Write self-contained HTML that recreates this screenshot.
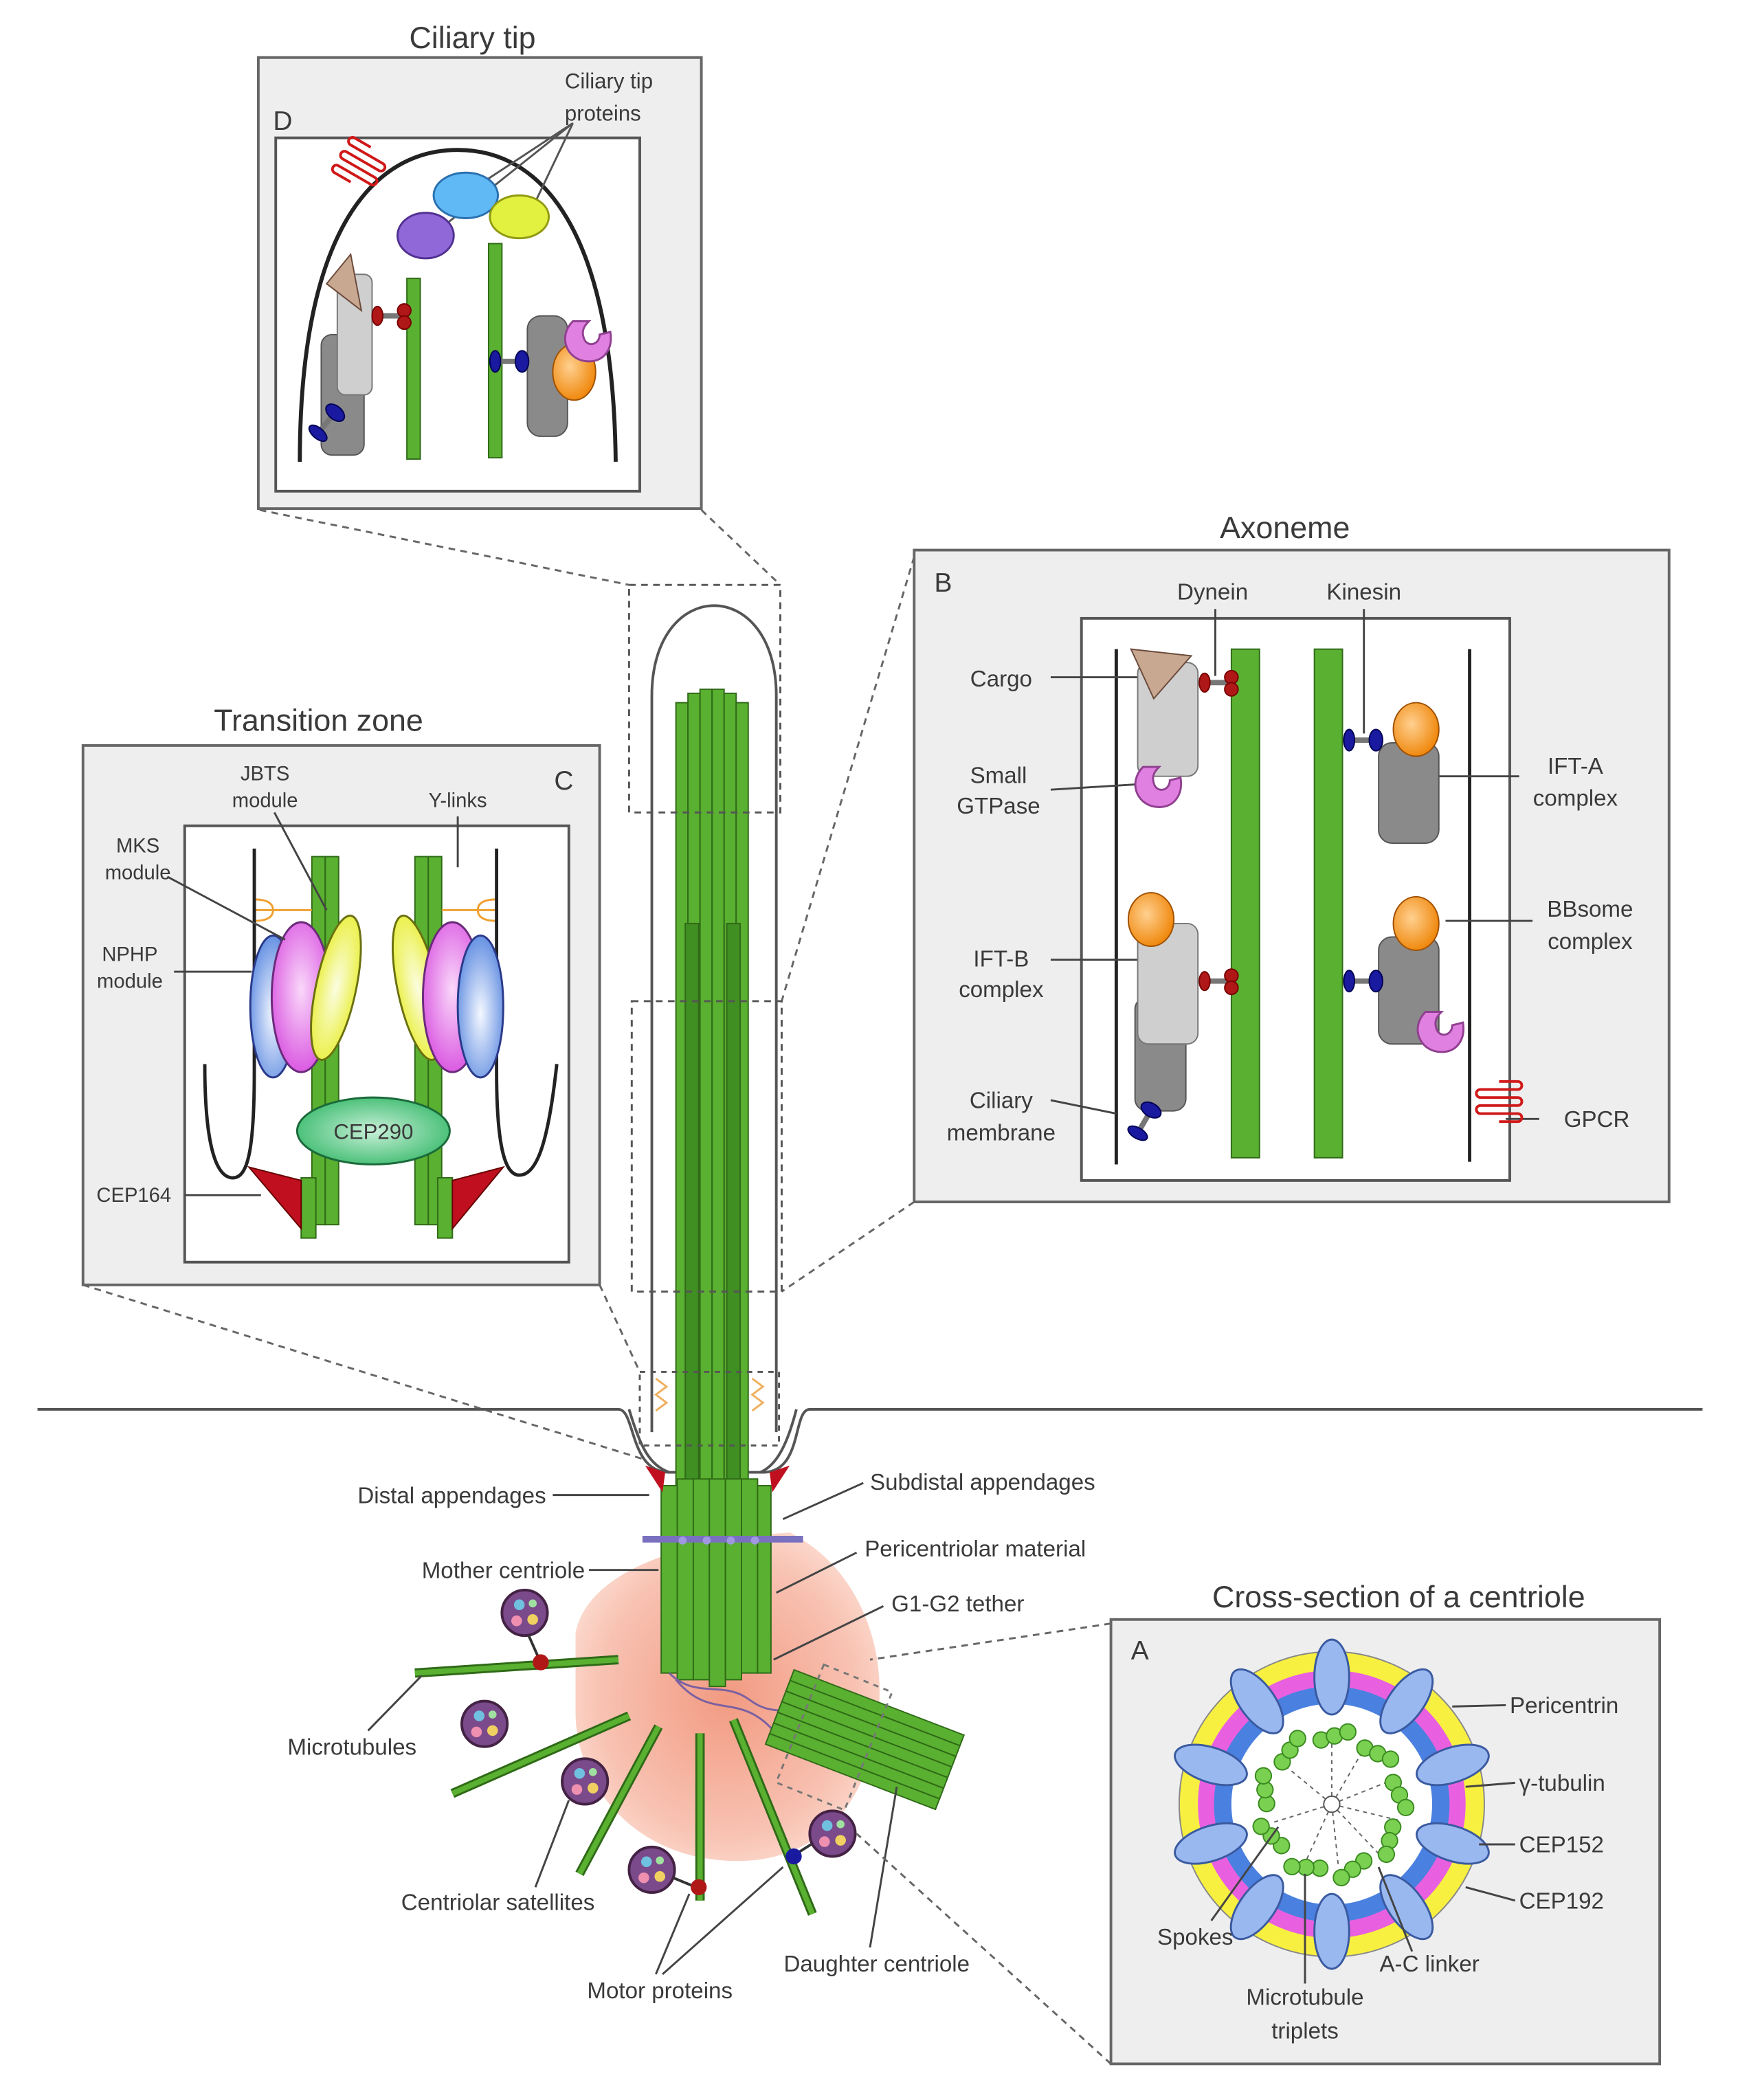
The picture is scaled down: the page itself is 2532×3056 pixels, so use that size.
<!DOCTYPE html>
<html><head><meta charset="utf-8"><style>
html,body{margin:0;padding:0;background:#fff}
svg{display:block}
text{font-family:"Liberation Sans",sans-serif;fill:#3a3a3a}
</style></head><body>
<svg width="2532" height="3056" viewBox="0 0 1300 1569" preserveAspectRatio="none" xmlns="http://www.w3.org/2000/svg">
<defs>
<radialGradient id="pcm" cx="0.5" cy="0.5" r="0.6"><stop offset="0" stop-color="#f29a82"/><stop offset="0.7" stop-color="#f8c2b2"/><stop offset="1" stop-color="#fde2d8"/></radialGradient>
<radialGradient id="or" cx="0.4" cy="0.4" r="0.6"><stop offset="0" stop-color="#ffd090"/><stop offset="1" stop-color="#f08a10"/></radialGradient>
<radialGradient id="gb" cx="0.5" cy="0.55" r="0.6"><stop offset="0" stop-color="#f4f8ff"/><stop offset="1" stop-color="#5a88e0"/></radialGradient>
<radialGradient id="gm" cx="0.5" cy="0.45" r="0.6"><stop offset="0" stop-color="#fad8fa"/><stop offset="1" stop-color="#d850e0"/></radialGradient>
<radialGradient id="gy" cx="0.5" cy="0.5" r="0.6"><stop offset="0" stop-color="#fbfde0"/><stop offset="1" stop-color="#e8ee30"/></radialGradient>
<radialGradient id="gg" cx="0.5" cy="0.5" r="0.6"><stop offset="0" stop-color="#c8f0d8"/><stop offset="1" stop-color="#34b868"/></radialGradient>
<g id="dyn"><rect x="-9" y="-2" width="18" height="4" fill="#777"/><ellipse cx="-10" cy="0" rx="4" ry="7" fill="#b01818" stroke="#700" /><ellipse cx="10" cy="-4" rx="5" ry="5" fill="#b01818" stroke="#700"/><ellipse cx="10" cy="5" rx="5" ry="5" fill="#b01818" stroke="#700"/></g>
<g id="kin"><rect x="-9" y="-2" width="18" height="4" fill="#777"/><ellipse cx="-10" cy="0" rx="4" ry="8" fill="#1a1aa0" stroke="#005"/><ellipse cx="10" cy="0" rx="5" ry="8" fill="#1a1aa0" stroke="#005"/></g>
<g id="gpcr"><path d="M0,0 v-14 a3,3 0 0 1 6,0 v28 a3,3 0 0 0 6,0 v-28 a3,3 0 0 1 6,0 v28 a3,3 0 0 0 6,0 v-28 a3,3 0 0 1 6,0 v14" fill="none" stroke="#d01818" stroke-width="2"/></g>
<g id="cshape"><path d="M-10,-12 C-22,0 -14,18 2,18 C14,18 20,8 18,-4 L10,-2 C10,6 0,8 -2,0 C-4,-6 0,-10 2,-12 Z" fill="#e080e0" stroke="#904090" stroke-width="1.5"/></g>
</defs>

<!-- ===== Box D ===== -->
<text x="353" y="36" font-size="23" text-anchor="middle">Ciliary tip</text>
<rect x="193" y="43" width="331" height="337" fill="#eeeeee" stroke="#666" stroke-width="2"/>
<rect x="206" y="103" width="272" height="264" fill="#fff" stroke="#555" stroke-width="2"/>
<text x="204" y="97" font-size="20">D</text>
<text x="422" y="66" font-size="16">Ciliary tip</text>
<text x="422" y="90" font-size="16">proteins</text>
<path d="M224,345 C224,170 280,112 342,112 C404,112 458,170 460,345" fill="none" stroke="#222" stroke-width="3"/>
<g transform="translate(262,136) rotate(-60)"><use href="#gpcr"/></g>
<line x1="428" y1="92" x2="358" y2="138" stroke="#555" stroke-width="1.5"/>
<line x1="428" y1="92" x2="330" y2="170" stroke="#555" stroke-width="1.5"/>
<line x1="428" y1="92" x2="398" y2="155" stroke="#555" stroke-width="1.5"/>
<ellipse cx="348" cy="146" rx="24" ry="17" fill="#60b8f4" stroke="#2a70b0" stroke-width="1.5"/>
<ellipse cx="388" cy="162" rx="22" ry="16" fill="#e2f040" stroke="#909a10" stroke-width="1.5"/>
<ellipse cx="318" cy="176" rx="21" ry="17" fill="#9068d8" stroke="#503090" stroke-width="1.5"/>
<rect x="304" y="208" width="10" height="135" fill="#5ab030" stroke="#2f6a18"/>
<rect x="365" y="182" width="10" height="160" fill="#5ab030" stroke="#2f6a18"/>
<rect x="240" y="250" width="32" height="90" rx="8" fill="#8a8a8a" stroke="#555"/>
<rect x="252" y="205" width="26" height="90" rx="6" fill="#cfcfcf" stroke="#777"/>
<polygon points="262,190 270,232 244,212" fill="#c8a890" stroke="#6a4a3a"/>
<use href="#dyn" x="292" y="236"/>
<g transform="translate(244,316) rotate(-50)"><use href="#kin"/></g>
<rect x="394" y="236" width="30" height="90" rx="10" fill="#8a8a8a" stroke="#555"/>
<use href="#kin" x="380" y="270"/>
<ellipse cx="429" cy="278" rx="16" ry="21" fill="url(#or)" stroke="#a05000"/>
<g transform="translate(438,252)"><use href="#cshape"/></g>

<line x1="194" y1="381" x2="470" y2="437" stroke="#666" stroke-width="1.5" stroke-dasharray="5,4"/>
<line x1="524" y1="381" x2="583" y2="437" stroke="#666" stroke-width="1.5" stroke-dasharray="5,4"/>

<!-- ===== Box B ===== -->
<text x="960" y="402" font-size="23" text-anchor="middle">Axoneme</text>
<rect x="683" y="411" width="564" height="487" fill="#eeeeee" stroke="#666" stroke-width="2"/>
<rect x="808" y="462" width="320" height="420" fill="#fff" stroke="#555" stroke-width="2"/>
<text x="698" y="442" font-size="20">B</text>
<line x1="834" y1="485" x2="834" y2="870" stroke="#222" stroke-width="2.5"/>
<line x1="1098" y1="485" x2="1098" y2="868" stroke="#222" stroke-width="2.5"/>
<rect x="920" y="485" width="21" height="380" fill="#5ab030" stroke="#2f6a18"/>
<rect x="982" y="485" width="21" height="380" fill="#5ab030" stroke="#2f6a18"/>
<g font-size="17" text-anchor="middle">
<text x="748" y="513">Cargo</text>
<text x="746" y="585">Small</text><text x="746" y="608">GTPase</text>
<text x="748" y="722">IFT-B</text><text x="748" y="745">complex</text>
<text x="748" y="828">Ciliary</text><text x="748" y="852">membrane</text>
<text x="1177" y="578">IFT-A</text><text x="1177" y="602">complex</text>
<text x="1188" y="685">BBsome</text><text x="1188" y="709">complex</text>
<text x="1193" y="842">GPCR</text>
<text x="906" y="448">Dynein</text>
<text x="1019" y="448">Kinesin</text>
</g>
<g stroke="#444" stroke-width="1.5" fill="none">
<line x1="785" y1="506" x2="852" y2="506"/>
<line x1="785" y1="590" x2="850" y2="586"/>
<line x1="785" y1="717" x2="852" y2="717"/>
<line x1="785" y1="822" x2="834" y2="832"/>
<line x1="1135" y1="580" x2="1075" y2="580"/>
<line x1="1145" y1="688" x2="1080" y2="688"/>
<line x1="1150" y1="836" x2="1125" y2="836"/>
<line x1="908" y1="455" x2="908" y2="505"/>
<line x1="1019" y1="455" x2="1019" y2="548"/>
</g>
<rect x="850" y="495" width="45" height="85" rx="8" fill="#cfcfcf" stroke="#777"/>
<polygon points="845,485 890,490 862,522" fill="#c8a890" stroke="#6a4a3a"/>
<g transform="translate(864,585)"><use href="#cshape"/></g>
<use href="#dyn" x="910" y="510"/>
<rect x="848" y="745" width="38" height="85" rx="9" fill="#8a8a8a" stroke="#555"/>
<rect x="850" y="690" width="45" height="90" rx="8" fill="#cfcfcf" stroke="#777"/>
<ellipse cx="860" cy="687" rx="17" ry="20" fill="url(#or)" stroke="#a05000"/>
<use href="#dyn" x="910" y="733"/>
<g transform="translate(855,838) rotate(-60)"><use href="#kin"/></g>
<rect x="1030" y="555" width="45" height="75" rx="10" fill="#8a8a8a" stroke="#555"/>
<ellipse cx="1058" cy="545" rx="17" ry="20" fill="url(#or)" stroke="#a05000"/>
<use href="#kin" x="1018" y="553"/>
<rect x="1030" y="700" width="45" height="80" rx="10" fill="#8a8a8a" stroke="#555"/>
<ellipse cx="1058" cy="690" rx="17" ry="20" fill="url(#or)" stroke="#a05000"/>
<use href="#kin" x="1018" y="733"/>
<g transform="translate(1075,768)"><use href="#cshape"/></g>
<g transform="translate(1084,820) rotate(90) translate(-12,-36)"><use href="#gpcr"/></g>

<line x1="683" y1="416" x2="584" y2="748" stroke="#666" stroke-width="1.5" stroke-dasharray="5,4"/>
<line x1="683" y1="898" x2="584" y2="965" stroke="#666" stroke-width="1.5" stroke-dasharray="5,4"/>

<!-- ===== Box C ===== -->
<text x="238" y="546" font-size="23" text-anchor="middle">Transition zone</text>
<rect x="62" y="557" width="386" height="403" fill="#eeeeee" stroke="#666" stroke-width="2"/>
<rect x="138" y="617" width="287" height="326" fill="#fff" stroke="#555" stroke-width="2"/>
<text x="414" y="590" font-size="20">C</text>
<g fill="#5ab030" stroke="#2f6a18">
<rect x="233" y="640" width="10" height="275"/><rect x="243" y="640" width="10" height="275"/>
<rect x="225" y="880" width="11" height="45"/>
<rect x="310" y="640" width="10" height="275"/><rect x="320" y="640" width="10" height="275"/>
<rect x="327" y="880" width="11" height="45"/>
</g>
<path d="M190,680 h43 M190,672 q14,0 14,8 q0,8 -14,8" fill="none" stroke="#f0a030" stroke-width="1.5"/>
<path d="M330,680 h41 M371,672 q-14,0 -14,8 q0,8 14,8" fill="none" stroke="#f0a030" stroke-width="1.5"/>
<path d="M190,634 L190,800 C190,860 185,880 174,880 C160,880 153,850 153,795" fill="none" stroke="#222" stroke-width="2.5"/>
<path d="M371,634 L371,800 C371,860 378,878 388,878 C402,878 410,850 416,795" fill="none" stroke="#222" stroke-width="2.5"/>
<ellipse cx="204" cy="752" rx="17" ry="53" fill="url(#gb)" stroke="#2a3a8a" stroke-width="1.5"/>
<ellipse cx="225" cy="745" rx="22" ry="56" fill="url(#gm)" stroke="#6a2a7a" stroke-width="1.5"/>
<ellipse cx="251" cy="738" rx="15" ry="55" fill="url(#gy)" stroke="#6a7010" stroke-width="1.5" transform="rotate(12 251 738)"/>
<ellipse cx="312" cy="738" rx="15" ry="55" fill="url(#gy)" stroke="#6a7010" stroke-width="1.5" transform="rotate(-12 312 738)"/>
<ellipse cx="338" cy="745" rx="22" ry="56" fill="url(#gm)" stroke="#6a2a7a" stroke-width="1.5"/>
<ellipse cx="359" cy="752" rx="17" ry="53" fill="url(#gb)" stroke="#2a3a8a" stroke-width="1.5"/>
<ellipse cx="279" cy="845" rx="57" ry="25" fill="url(#gg)" stroke="#1a6a3a" stroke-width="1.5"/>
<text x="279" y="851" font-size="16" text-anchor="middle" fill="#1a4a2a">CEP290</text>
<polygon points="186,872 225,882 225,918" fill="#c01020" stroke="#600"/>
<polygon points="376,872 338,882 338,918" fill="#c01020" stroke="#600"/>
<g font-size="15" text-anchor="middle">
<text x="198" y="583">JBTS</text><text x="198" y="603">module</text>
<text x="342" y="603">Y-links</text>
<text x="103" y="637">MKS</text><text x="103" y="657">module</text>
<text x="97" y="718">NPHP</text><text x="97" y="738">module</text>
<text x="100" y="898">CEP164</text>
</g>
<g stroke="#444" stroke-width="1.5">
<line x1="205" y1="607" x2="244" y2="680"/>
<line x1="342" y1="610" x2="342" y2="648"/>
<line x1="125" y1="655" x2="213" y2="702"/>
<line x1="130" y1="726" x2="188" y2="726"/>
<line x1="138" y1="893" x2="195" y2="893"/>
</g>
<line x1="62" y1="960" x2="480" y2="1090" stroke="#666" stroke-width="1.5" stroke-dasharray="5,4"/>
<line x1="448" y1="960" x2="478" y2="1025" stroke="#666" stroke-width="1.5" stroke-dasharray="5,4"/>

<!-- ===== Cilium ===== -->
<path d="M28,1053 L462,1053 C475,1053 470,1100 500,1100 L570,1100 C600,1100 592,1053 605,1053 L1272,1053" fill="none" stroke="#555" stroke-width="2"/>
<path d="M487,1070 L487,520 C487,430 580,430 580,520 L580,1070" fill="none" stroke="#555" stroke-width="2"/>
<path d="M470,1053 C478,1080 485,1095 500,1100 M595,1053 C588,1080 580,1095 568,1100" fill="none" stroke="#555" stroke-width="2"/>
<path d="M430,1220 C440,1170 520,1150 590,1145 C640,1170 665,1230 655,1290 C645,1360 600,1395 540,1390 C470,1385 430,1330 430,1280 Z" fill="url(#pcm)"/>
<g fill="#5ab030" stroke="#2f6a18" stroke-width="1">
<rect x="505" y="525" width="9" height="620"/><rect x="514" y="518" width="9" height="630"/><rect x="523" y="515" width="9" height="640"/>
<rect x="532" y="515" width="9" height="640"/><rect x="541" y="518" width="9" height="630"/><rect x="550" y="525" width="9" height="620"/>
<rect x="512" y="690" width="10" height="450" fill="#3f8f22"/><rect x="543" y="690" width="10" height="450" fill="#3f8f22"/>
</g>
<g fill="#5ab030" stroke="#2f6a18" stroke-width="1">
<rect x="494" y="1110" width="12" height="140"/><rect x="506" y="1105" width="12" height="150"/><rect x="518" y="1105" width="12" height="150"/>
<rect x="530" y="1105" width="12" height="155"/><rect x="542" y="1105" width="12" height="150"/><rect x="554" y="1105" width="12" height="145"/><rect x="566" y="1110" width="10" height="140"/>
</g>
<polygon points="482,1095 497,1100 495,1115" fill="#c01020"/>
<polygon points="590,1095 575,1100 577,1115" fill="#c01020"/>
<path d="M480,1150 L600,1150" stroke="#7a70c0" stroke-width="5"/>
<g fill="#a098e0"><circle cx="510" cy="1151" r="3"/><circle cx="528" cy="1151" r="3"/><circle cx="546" cy="1151" r="3"/><circle cx="564" cy="1151" r="3"/></g>
<rect x="470" y="437" width="113" height="170" fill="none" stroke="#555" stroke-width="1.5" stroke-dasharray="5,4"/>
<rect x="472" y="748" width="112" height="217" fill="none" stroke="#555" stroke-width="1.5" stroke-dasharray="5,4"/>
<rect x="478" y="1025" width="104" height="55" fill="none" stroke="#555" stroke-width="1.5" stroke-dasharray="4,4"/>
<path d="M490,1030 l8,6 -8,6 8,6 -8,6 M562,1030 l8,6 -8,6 8,6 -8,6" fill="none" stroke="#f0b060" stroke-width="1.5"/>
<path d="M500,1250 C520,1270 540,1255 560,1270 C580,1285 590,1270 600,1290 M505,1255 C530,1285 550,1265 575,1290 C590,1305 595,1295 600,1310" fill="none" stroke="#7a60a0" stroke-width="1.5"/>
<g transform="translate(646,1300) rotate(21)" fill="#5ab030" stroke="#2f6a18">
<rect x="-68" y="-30" width="136" height="8.5"/><rect x="-68" y="-21.5" width="136" height="8.5"/><rect x="-68" y="-13" width="136" height="8.5"/>
<rect x="-68" y="-4.5" width="136" height="8.5"/><rect x="-68" y="4" width="136" height="8.5"/><rect x="-68" y="12.5" width="136" height="8.5"/><rect x="-68" y="21" width="136" height="8.5"/>
</g>
<g stroke="#2f6a18" stroke-width="7">
<line x1="310" y1="1250" x2="462" y2="1240"/>
<line x1="338" y1="1340" x2="470" y2="1282"/>
<line x1="433" y1="1400" x2="492" y2="1290"/>
<line x1="523" y1="1295" x2="523" y2="1420"/>
<line x1="548" y1="1285" x2="607" y2="1430"/>
</g>
<g stroke="#5ab030" stroke-width="4">
<line x1="310" y1="1250" x2="462" y2="1240"/>
<line x1="338" y1="1340" x2="470" y2="1282"/>
<line x1="433" y1="1400" x2="492" y2="1290"/>
<line x1="523" y1="1295" x2="523" y2="1420"/>
<line x1="548" y1="1285" x2="607" y2="1430"/>
</g>
<g stroke="#442244" stroke-width="2" fill="#7a4a8a">
<circle cx="392" cy="1205" r="17"/><circle cx="362" cy="1288" r="17"/><circle cx="437" cy="1331" r="17"/><circle cx="487" cy="1397" r="17"/><circle cx="622" cy="1370" r="17"/>
</g>
<g fill="#f0d060"><circle cx="398" cy="1210" r="4"/><circle cx="368" cy="1293" r="4"/><circle cx="443" cy="1336" r="4"/><circle cx="493" cy="1402" r="4"/><circle cx="628" cy="1375" r="4"/></g>
<g fill="#70c0e0"><circle cx="388" cy="1199" r="4"/><circle cx="358" cy="1282" r="4"/><circle cx="433" cy="1325" r="4"/><circle cx="483" cy="1391" r="4"/><circle cx="618" cy="1364" r="4"/></g>
<g fill="#f090b0"><circle cx="386" cy="1211" r="4"/><circle cx="356" cy="1294" r="4"/><circle cx="431" cy="1337" r="4"/><circle cx="481" cy="1403" r="4"/><circle cx="616" cy="1376" r="4"/></g>
<g fill="#a0e0a0"><circle cx="398" cy="1198" r="3"/><circle cx="368" cy="1281" r="3"/><circle cx="443" cy="1324" r="3"/><circle cx="493" cy="1390" r="3"/><circle cx="628" cy="1363" r="3"/></g>
<line x1="395" y1="1222" x2="403" y2="1240" stroke="#333" stroke-width="2"/><circle cx="404" cy="1242" r="6" fill="#b01818"/>
<line x1="503" y1="1403" x2="520" y2="1410" stroke="#333" stroke-width="2"/><circle cx="522" cy="1410" r="6" fill="#b01818"/>
<line x1="606" y1="1378" x2="595" y2="1385" stroke="#333" stroke-width="2"/><circle cx="593" cy="1387" r="6" fill="#1a1aa0"/>
<g font-size="17">
<text x="408" y="1123" text-anchor="end">Distal appendages</text>
<text x="650" y="1113">Subdistal appendages</text>
<text x="646" y="1163">Pericentriolar material</text>
<text x="437" y="1179" text-anchor="end">Mother centriole</text>
<text x="666" y="1204">G1-G2 tether</text>
<text x="263" y="1311" text-anchor="middle">Microtubules</text>
<text x="372" y="1427" text-anchor="middle">Centriolar satellites</text>
<text x="493" y="1493" text-anchor="middle">Motor proteins</text>
<text x="655" y="1473" text-anchor="middle">Daughter centriole</text>
</g>
<g stroke="#444" stroke-width="1.5" fill="none">
<line x1="413" y1="1117" x2="485" y2="1117"/>
<line x1="645" y1="1108" x2="585" y2="1135"/>
<line x1="640" y1="1160" x2="580" y2="1190"/>
<line x1="440" y1="1173" x2="492" y2="1173"/>
<line x1="660" y1="1200" x2="578" y2="1240"/>
<line x1="275" y1="1293" x2="315" y2="1252"/>
<line x1="400" y1="1410" x2="425" y2="1345"/>
<line x1="490" y1="1475" x2="515" y2="1415"/>
<line x1="495" y1="1475" x2="585" y2="1395"/>
<line x1="650" y1="1455" x2="670" y2="1335"/>
</g>
<rect x="596" y="1250" width="55" height="95" fill="none" stroke="#777" stroke-width="1.5" stroke-dasharray="4,4" transform="rotate(22 622 1297)"/>

<!-- ===== Box A ===== -->
<text x="1045" y="1201" font-size="23" text-anchor="middle">Cross-section of a centriole</text>
<rect x="830" y="1210" width="410" height="332" fill="#eeeeee" stroke="#666" stroke-width="2"/>
<text x="845" y="1240" font-size="20">A</text>
<line x1="830" y1="1213" x2="650" y2="1240" stroke="#666" stroke-width="1.5" stroke-dasharray="5,4"/>
<line x1="830" y1="1542" x2="640" y2="1370" stroke="#666" stroke-width="1.5" stroke-dasharray="5,4"/>
<circle cx="995" cy="1348" r="114" fill="#f8f040" stroke="#888" stroke-width="1"/>
<circle cx="995" cy="1348" r="100" fill="#e860e0"/>
<circle cx="995" cy="1348" r="88" fill="#4a80e0"/>
<circle cx="995" cy="1348" r="75" fill="#fff"/>
<g fill="#9ab8f0" stroke="#3a5aa0" stroke-width="1.5">
<g transform="rotate(0 995 1348)"><ellipse cx="995" cy="1253" rx="13" ry="28"/></g>
<g transform="rotate(36 995 1348)"><ellipse cx="995" cy="1253" rx="13" ry="28"/></g>
<g transform="rotate(72 995 1348)"><ellipse cx="995" cy="1253" rx="13" ry="28"/></g>
<g transform="rotate(108 995 1348)"><ellipse cx="995" cy="1253" rx="13" ry="28"/></g>
<g transform="rotate(144 995 1348)"><ellipse cx="995" cy="1253" rx="13" ry="28"/></g>
<g transform="rotate(180 995 1348)"><ellipse cx="995" cy="1253" rx="13" ry="28"/></g>
<g transform="rotate(216 995 1348)"><ellipse cx="995" cy="1253" rx="13" ry="28"/></g>
<g transform="rotate(252 995 1348)"><ellipse cx="995" cy="1253" rx="13" ry="28"/></g>
<g transform="rotate(288 995 1348)"><ellipse cx="995" cy="1253" rx="13" ry="28"/></g>
<g transform="rotate(324 995 1348)"><ellipse cx="995" cy="1253" rx="13" ry="28"/></g>
</g>
<g stroke="#666" stroke-width="1" stroke-dasharray="3,3">
<line x1="995" y1="1348" x2="995" y2="1300"/><line x1="995" y1="1348" x2="1040" y2="1330"/><line x1="995" y1="1348" x2="1030" y2="1385"/>
<line x1="995" y1="1348" x2="975" y2="1392"/><line x1="995" y1="1348" x2="950" y2="1362"/><line x1="995" y1="1348" x2="955" y2="1315"/>
<line x1="995" y1="1348" x2="1020" y2="1305"/><line x1="995" y1="1348" x2="1045" y2="1360"/><line x1="995" y1="1348" x2="1000" y2="1395"/>
</g>
<circle cx="995" cy="1348" r="6" fill="#fff" stroke="#555"/>
<g fill="#7ad050" stroke="#3a8a20" stroke-width="1">
<g transform="rotate(0 995 1348)"><circle cx="987" cy="1300" r="6"/><circle cx="997" cy="1297" r="6"/><circle cx="1007" cy="1294" r="6"/></g>
<g transform="rotate(40 995 1348)"><circle cx="987" cy="1300" r="6"/><circle cx="997" cy="1297" r="6"/><circle cx="1007" cy="1294" r="6"/></g>
<g transform="rotate(80 995 1348)"><circle cx="987" cy="1300" r="6"/><circle cx="997" cy="1297" r="6"/><circle cx="1007" cy="1294" r="6"/></g>
<g transform="rotate(120 995 1348)"><circle cx="987" cy="1300" r="6"/><circle cx="997" cy="1297" r="6"/><circle cx="1007" cy="1294" r="6"/></g>
<g transform="rotate(160 995 1348)"><circle cx="987" cy="1300" r="6"/><circle cx="997" cy="1297" r="6"/><circle cx="1007" cy="1294" r="6"/></g>
<g transform="rotate(200 995 1348)"><circle cx="987" cy="1300" r="6"/><circle cx="997" cy="1297" r="6"/><circle cx="1007" cy="1294" r="6"/></g>
<g transform="rotate(240 995 1348)"><circle cx="987" cy="1300" r="6"/><circle cx="997" cy="1297" r="6"/><circle cx="1007" cy="1294" r="6"/></g>
<g transform="rotate(280 995 1348)"><circle cx="987" cy="1300" r="6"/><circle cx="997" cy="1297" r="6"/><circle cx="1007" cy="1294" r="6"/></g>
<g transform="rotate(320 995 1348)"><circle cx="987" cy="1300" r="6"/><circle cx="997" cy="1297" r="6"/><circle cx="1007" cy="1294" r="6"/></g>
</g>
<g font-size="17">
<text x="1128" y="1280">Pericentrin</text>
<text x="1135" y="1338">γ-tubulin</text>
<text x="1135" y="1384">CEP152</text>
<text x="1135" y="1426">CEP192</text>
<text x="893" y="1453" text-anchor="middle">Spokes</text>
<text x="1068" y="1473" text-anchor="middle">A-C linker</text>
<text x="975" y="1498" text-anchor="middle">Microtubule</text>
<text x="975" y="1523" text-anchor="middle">triplets</text>
</g>
<g stroke="#444" stroke-width="1.5">
<line x1="1125" y1="1274" x2="1085" y2="1275"/>
<line x1="1132" y1="1332" x2="1095" y2="1335"/>
<line x1="1132" y1="1378" x2="1105" y2="1378"/>
<line x1="1132" y1="1420" x2="1095" y2="1410"/>
<line x1="905" y1="1435" x2="955" y2="1365"/>
<line x1="1055" y1="1458" x2="1030" y2="1395"/>
<line x1="975" y1="1482" x2="975" y2="1400"/>
</g>
</svg>
</body></html>
